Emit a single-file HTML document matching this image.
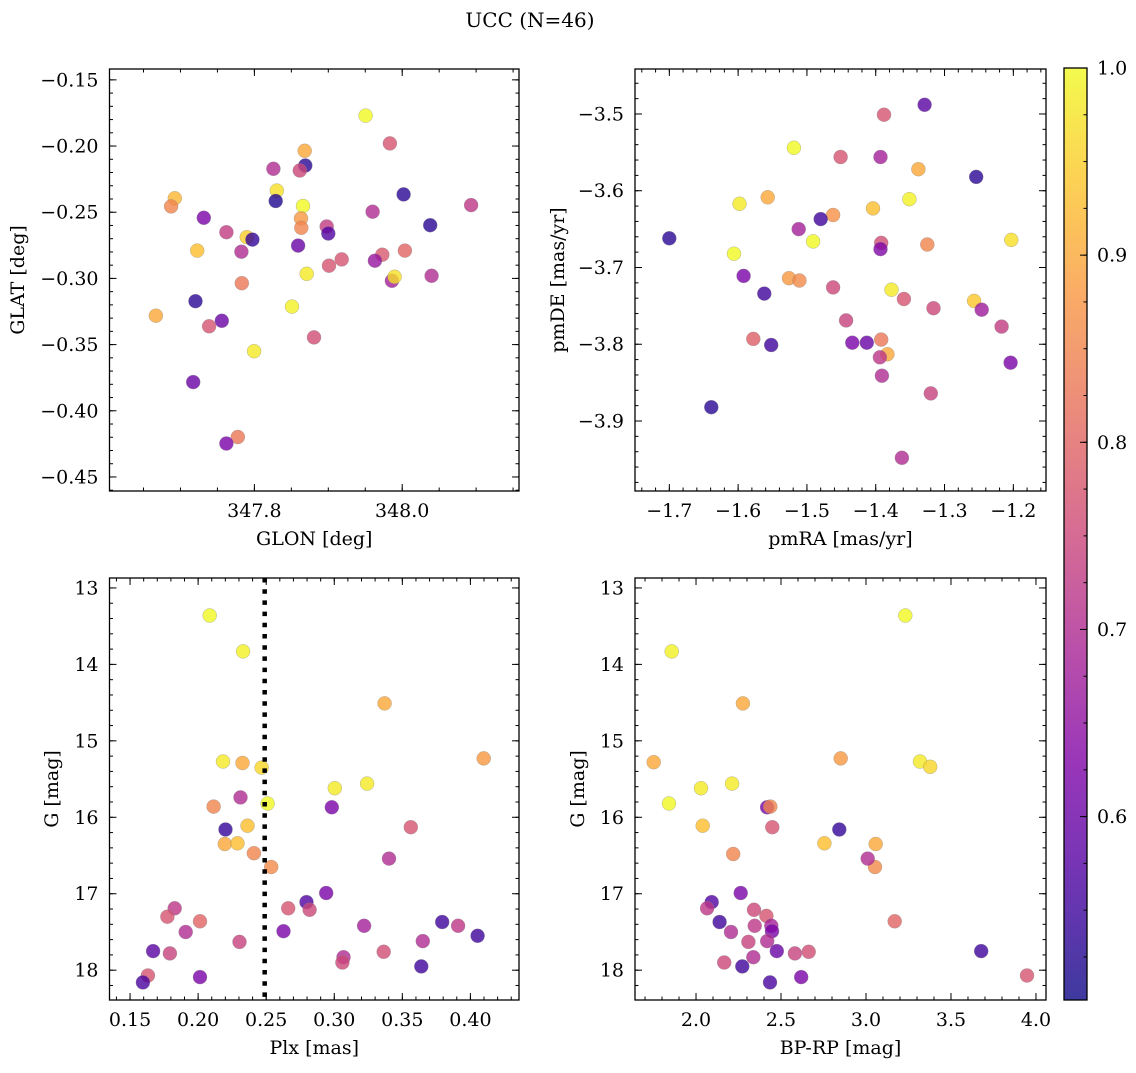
<!DOCTYPE html>
<html><head><meta charset="utf-8">
<style>
html,body{margin:0;padding:0;background:#fff;}
svg text{font-family:"DejaVu Serif","Liberation Serif",serif;fill:#000;}
</style></head>
<body>
<svg id="fig" width="1136" height="1068" viewBox="0 0 1136 1068" xmlns="http://www.w3.org/2000/svg">
<text x="530" y="27" font-size="20" text-anchor="middle">UCC (N=46)</text>
</svg>
<script>
// ---- Panel 1: GLON vs GLAT ----
const glonA=[347.9505,347.9834,347.8681,347.8689,347.8614,347.8257,347.8303,347.8289,347.8658,347.8631,347.8635,347.6924,347.6874,347.7316,347.7622,347.7897,347.7973,347.7226,347.7824,347.8591,347.8978,347.9,347.96,348.0019,348.0378,348.0932,347.9009,347.9181,347.973,347.9631,348.0036,347.9861,347.9897,348.0397,347.8708,347.783,347.7203,347.6668,347.8509,347.7559,347.7388,347.8807,347.7996,347.7172,347.7776,347.7622];
const glatA=[-0.177,-0.198,-0.2036,-0.2147,-0.2185,-0.2172,-0.2337,-0.2415,-0.2453,-0.2547,-0.2618,-0.2395,-0.2456,-0.2542,-0.2651,-0.2689,-0.2707,-0.279,-0.2798,-0.2752,-0.2608,-0.2661,-0.2496,-0.2365,-0.2598,-0.2446,-0.2904,-0.2856,-0.2821,-0.2866,-0.279,-0.3018,-0.2988,-0.298,-0.2965,-0.3036,-0.3172,-0.3282,-0.3213,-0.332,-0.3362,-0.3446,-0.355,-0.3783,-0.4198,-0.4247];
const probA=[1.0,0.77,0.9,0.53,0.75,0.7,0.97,0.52,1.0,0.88,0.85,0.92,0.85,0.62,0.73,0.95,0.54,0.93,0.7,0.6,0.73,0.57,0.7,0.53,0.53,0.72,0.77,0.77,0.78,0.66,0.8,0.68,0.97,0.7,0.98,0.83,0.53,0.9,0.99,0.6,0.77,0.76,0.98,0.6,0.83,0.62];
// ---- Panel 2: pmRA vs pmDE ----
const pmraB=[-1.329,-1.388,-1.519,-1.451,-1.393,-1.338,-1.254,-1.557,-1.351,-1.598,-1.404,-1.462,-1.480,-1.512,-1.700,-1.203,-1.491,-1.392,-1.393,-1.325,-1.606,-1.592,-1.526,-1.511,-1.562,-1.462,-1.377,-1.359,-1.316,-1.257,-1.246,-1.217,-1.443,-1.578,-1.552,-1.434,-1.413,-1.392,-1.383,-1.394,-1.204,-1.391,-1.320,-1.639,-1.362];
const pmdeB=[-3.488,-3.501,-3.544,-3.556,-3.556,-3.572,-3.582,-3.6085,-3.611,-3.617,-3.623,-3.6316,-3.637,-3.65,-3.662,-3.664,-3.666,-3.668,-3.676,-3.670,-3.682,-3.711,-3.714,-3.717,-3.734,-3.726,-3.729,-3.741,-3.753,-3.7435,-3.755,-3.777,-3.769,-3.793,-3.801,-3.798,-3.798,-3.794,-3.813,-3.817,-3.824,-3.841,-3.864,-3.882,-3.948];
const probB=[0.58,0.77,1.0,0.77,0.68,0.9,0.53,0.9,0.99,0.98,0.93,0.87,0.55,0.68,0.53,0.97,1.0,0.76,0.63,0.85,1.0,0.62,0.88,0.86,0.55,0.75,0.98,0.77,0.75,0.94,0.67,0.73,0.74,0.79,0.55,0.62,0.6,0.83,0.9,0.72,0.62,0.7,0.74,0.53,0.7];
// ---- Panel 3: Plx vs G ----
const plxC=[0.2085,0.2330,0.3370,0.4098,0.2183,0.2326,0.2466,0.3241,0.3004,0.2311,0.2510,0.2114,0.2982,0.3562,0.2201,0.2363,0.2196,0.2289,0.2410,0.2537,0.3402,0.2941,0.2796,0.2819,0.2662,0.1828,0.1774,0.2014,0.1909,0.2627,0.3219,0.3793,0.3910,0.4053,0.1669,0.1793,0.2304,0.3650,0.3363,0.3068,0.3060,0.3639,0.2014,0.1631,0.1594];
const gC=[13.36,13.83,14.51,15.23,15.27,15.29,15.35,15.56,15.62,15.74,15.82,15.86,15.87,16.13,16.16,16.11,16.35,16.34,16.47,16.65,16.54,16.99,17.11,17.21,17.19,17.19,17.30,17.36,17.50,17.49,17.42,17.37,17.42,17.55,17.75,17.78,17.63,17.62,17.76,17.83,17.90,17.95,18.09,18.07,18.16];
const probC=[1.0,0.99,0.9,0.88,0.98,0.9,0.96,0.98,0.98,0.7,1.0,0.85,0.62,0.77,0.54,0.93,0.9,0.93,0.85,0.86,0.7,0.62,0.57,0.75,0.77,0.72,0.77,0.8,0.7,0.62,0.68,0.55,0.72,0.55,0.58,0.74,0.74,0.7,0.76,0.7,0.75,0.55,0.62,0.77,0.56];
const plxCut=0.25;
// ---- Panel 4: BP-RP vs G ----
const bprpD=[3.231,1.857,2.276,2.851,1.751,3.318,3.378,2.212,2.029,1.841,2.418,2.437,2.449,2.843,2.039,2.755,3.057,2.219,3.053,3.01,2.263,2.092,2.065,2.341,2.414,2.443,2.139,2.345,3.169,2.447,2.206,2.308,2.419,3.678,2.475,2.582,2.663,2.337,2.166,2.272,2.619,3.947,2.435];
const gD=[13.36,13.83,14.51,15.23,15.28,15.27,15.34,15.56,15.62,15.82,15.87,15.86,16.13,16.16,16.11,16.34,16.35,16.48,16.65,16.54,16.99,17.11,17.19,17.21,17.29,17.42,17.37,17.42,17.36,17.49,17.50,17.63,17.62,17.75,17.75,17.78,17.76,17.83,17.90,17.95,18.09,18.07,18.16];
const probD=[1.0,0.99,0.9,0.88,0.9,0.98,0.96,0.98,0.98,1.0,0.62,0.85,0.77,0.54,0.93,0.93,0.9,0.85,0.86,0.7,0.62,0.57,0.72,0.75,0.77,0.68,0.55,0.72,0.8,0.62,0.7,0.74,0.7,0.55,0.6,0.74,0.76,0.7,0.75,0.55,0.62,0.77,0.56];
// ---- Colorbar ----
const cbTicks=[0.6,0.7,0.8,0.9,1.0];
const cbLabels=["0.6","0.7","0.8","0.9","1.0"];
const VMIN=0.502, VMAX=1.0;

const NS="http://www.w3.org/2000/svg";
const svg=document.getElementById('fig');
function mk(tag,attrs,parent){const e=document.createElementNS(NS,tag);for(const k in attrs)e.setAttribute(k,attrs[k]);(parent||svg).appendChild(e);return e;}
const stops=[[0,[13,8,135]],[0.125,[76,2,161]],[0.25,[126,3,168]],[0.375,[169,35,149]],[0.5,[204,71,120]],[0.625,[229,107,93]],[0.75,[248,148,65]],[0.875,[253,195,40]],[1,[240,249,33]]];
function plasma(t){t=Math.max(0,Math.min(1,t));for(let i=1;i<stops.length;i++){if(t<=stops[i][0]){const a=stops[i-1],b=stops[i];const f=(t-a[0])/(b[0]-a[0]);const c=a[1].map((v,j)=>Math.round(v+(b[1][j]-v)*f));return `rgb(${c[0]},${c[1]},${c[2]})`;}}return 'rgb(240,249,33)';}
function color(p){return plasma((p-VMIN)/(VMAX-VMIN));}
function fmt(v,d){const s=Math.abs(v).toFixed(d);return (v<0?'\u2212':'')+s;}
const FS=19;

function panel(cfg){
  const g=mk('g',{});
  
  
  const {L,T,R,B}=cfg;
  const sx=v=>L+(v-cfg.x0)/(cfg.x1-cfg.x0)*(R-L);
  const sy=v=>cfg.yinv? T+(v-cfg.y0)/(cfg.y1-cfg.y0)*(B-T) : B-(v-cfg.y0)/(cfg.y1-cfg.y0)*(B-T);
  const pg=mk('g',{},g);
  
  
  cfg.xs.forEach((xv,i)=>{
    const c=mk('circle',{cx:sx(xv).toFixed(1),cy:sy(cfg.ys[i]).toFixed(1),r:7,fill:color(cfg.ps[i]),'fill-opacity':0.8,stroke:'#888','stroke-width':0.5,'stroke-opacity':0.6},pg);
    
    
  });
  if(cfg.vline!==undefined){
    const vl=mk('line',{x1:sx(cfg.vline)-1.5,x2:sx(cfg.vline)-1.5,y1:T,y2:B,stroke:'#000','stroke-width':4.5,'stroke-dasharray':'4.5 6.7'},g);
    
    
  }
  const tg=mk('g',{stroke:'#000','stroke-width':1},g);
  
  
  const eps=1e-9;
  function range(a,b,s){const out=[];const st=Math.ceil(Math.min(a,b)/s-eps);for(let k=st;k*s<=Math.max(a,b)+eps;k++)out.push(k*s);return out;}
  range(cfg.x0,cfg.x1,cfg.xminor).forEach(v=>{const x=sx(v);mk('line',{x1:x,x2:x,y1:B,y2:B-3.5},tg);mk('line',{x1:x,x2:x,y1:T,y2:T+3.5},tg);});
  range(cfg.y0,cfg.y1,cfg.yminor).forEach(v=>{const y=sy(v);mk('line',{x1:L,x2:L+3.5,y1:y,y2:y},tg);mk('line',{x1:R,x2:R-3.5,y1:y,y2:y},tg);});
  cfg.xmajor.forEach(v=>{const x=sx(v);mk('line',{x1:x,x2:x,y1:B,y2:B-7},tg);mk('line',{x1:x,x2:x,y1:T,y2:T+7},tg);
    const t=mk('text',{x:x,y:B+26,'font-size':FS,'text-anchor':'middle'},g);t.textContent=fmt(v,cfg.xd);
    });
  cfg.ymajor.forEach(v=>{const y=sy(v);mk('line',{x1:L,x2:L+7,y1:y,y2:y},tg);mk('line',{x1:R,x2:R-7,y1:y,y2:y},tg);
    const t=mk('text',{x:L-11,y:y+6.5,'font-size':FS,'text-anchor':'end'},g);t.textContent=fmt(v,cfg.yd);
    });
  const fr=mk('rect',{x:L,y:T,width:R-L,height:B-T,fill:'none',stroke:'#000','stroke-width':1.3},g);
  
  const xl=mk('text',{x:(L+R)/2,y:B+54,'font-size':FS,'text-anchor':'middle'},g);xl.textContent=cfg.xlabel;
  
  const yx=cfg.ylx, yc=(T+B)/2;
  const yl=mk('text',{x:yx,y:yc,'font-size':FS,'text-anchor':'middle',transform:`rotate(-90 ${yx} ${yc})`},g);yl.textContent=cfg.ylabel;
  
}

panel({name:'glon-glat-panel',L:109.5,T:69,R:519,B:491,x0:347.604,x1:348.158,y0:-0.1418,y1:-0.4606,yinv:true,
  xs:glonA,ys:glatA,ps:probA,xmajor:[347.8,348.0],xminor:0.05,xd:1,ymajor:[-0.15,-0.2,-0.25,-0.3,-0.35,-0.4,-0.45],yminor:0.01,yd:2,
  xlabel:'GLON [deg]',ylabel:'GLAT [deg]',ylx:24});
panel({name:'pm-panel',L:635,T:69,R:1046,B:491,x0:-1.7499,x1:-1.1525,y0:-3.4414,y1:-3.9912,yinv:true,
  xs:pmraB,ys:pmdeB,ps:probB,xmajor:[-1.7,-1.6,-1.5,-1.4,-1.3,-1.2],xminor:0.02,xd:1,ymajor:[-3.5,-3.6,-3.7,-3.8,-3.9],yminor:0.02,yd:1,
  xlabel:'pmRA [mas/yr]',ylabel:'pmDE [mas/yr]',ylx:564});
panel({name:'plx-g-panel',L:109.5,T:578,R:519,B:1000,x0:0.1349,x1:0.4357,y0:12.87,y1:18.39,yinv:true,
  xs:plxC,ys:gC,ps:probC,vline:plxCut,xmajor:[0.15,0.2,0.25,0.3,0.35,0.4],xminor:0.01,xd:2,ymajor:[13,14,15,16,17,18],yminor:0.2,yd:0,
  xlabel:'Plx [mas]',ylabel:'G [mag]',ylx:58});
panel({name:'cmd-panel',L:635,T:578,R:1046,B:1000,x0:1.641,x1:4.059,y0:12.87,y1:18.39,yinv:true,
  xs:bprpD,ys:gD,ps:probD,xmajor:[2.0,2.5,3.0,3.5,4.0],xminor:0.1,xd:1,ymajor:[13,14,15,16,17,18],yminor:0.2,yd:0,
  xlabel:'BP-RP [mag]',ylabel:'G [mag]',ylx:584});

(function(){
  const L=1064,R=1087,T=68,B=1000;
  const cg=mk('g',{});
  
  
  const defs=mk('defs',{},cg);
  const lg=mk('linearGradient',{id:'cbg',x1:0,y1:1,x2:0,y2:0},defs);
  for(let i=0;i<=20;i++){const t=i/20;mk('stop',{offset:t,'stop-color':plasma(t),'stop-opacity':0.8},lg);}
  mk('rect',{x:L,y:T,width:R-L,height:B-T,fill:'url(#cbg)'},cg);
  const sy=v=>B-(v-VMIN)/(VMAX-VMIN)*(B-T);
  for(let v=0.525;v<1.0;v+=0.025){const y=sy(v);mk('line',{x1:R,x2:R-3.5,y1:y,y2:y,stroke:'#000','stroke-width':1},cg);}
  cbTicks.forEach((v,i)=>{const y=sy(v);mk('line',{x1:R,x2:R-7,y1:y,y2:y,stroke:'#000','stroke-width':1},cg);
    const t=mk('text',{x:R+10,y:y+6.5,'font-size':FS},cg);t.textContent=cbLabels[i];
    });
  mk('rect',{x:L,y:T,width:R-L,height:B-T,fill:'none',stroke:'#000','stroke-width':1.3},cg);
})();
</script>
</body></html>
